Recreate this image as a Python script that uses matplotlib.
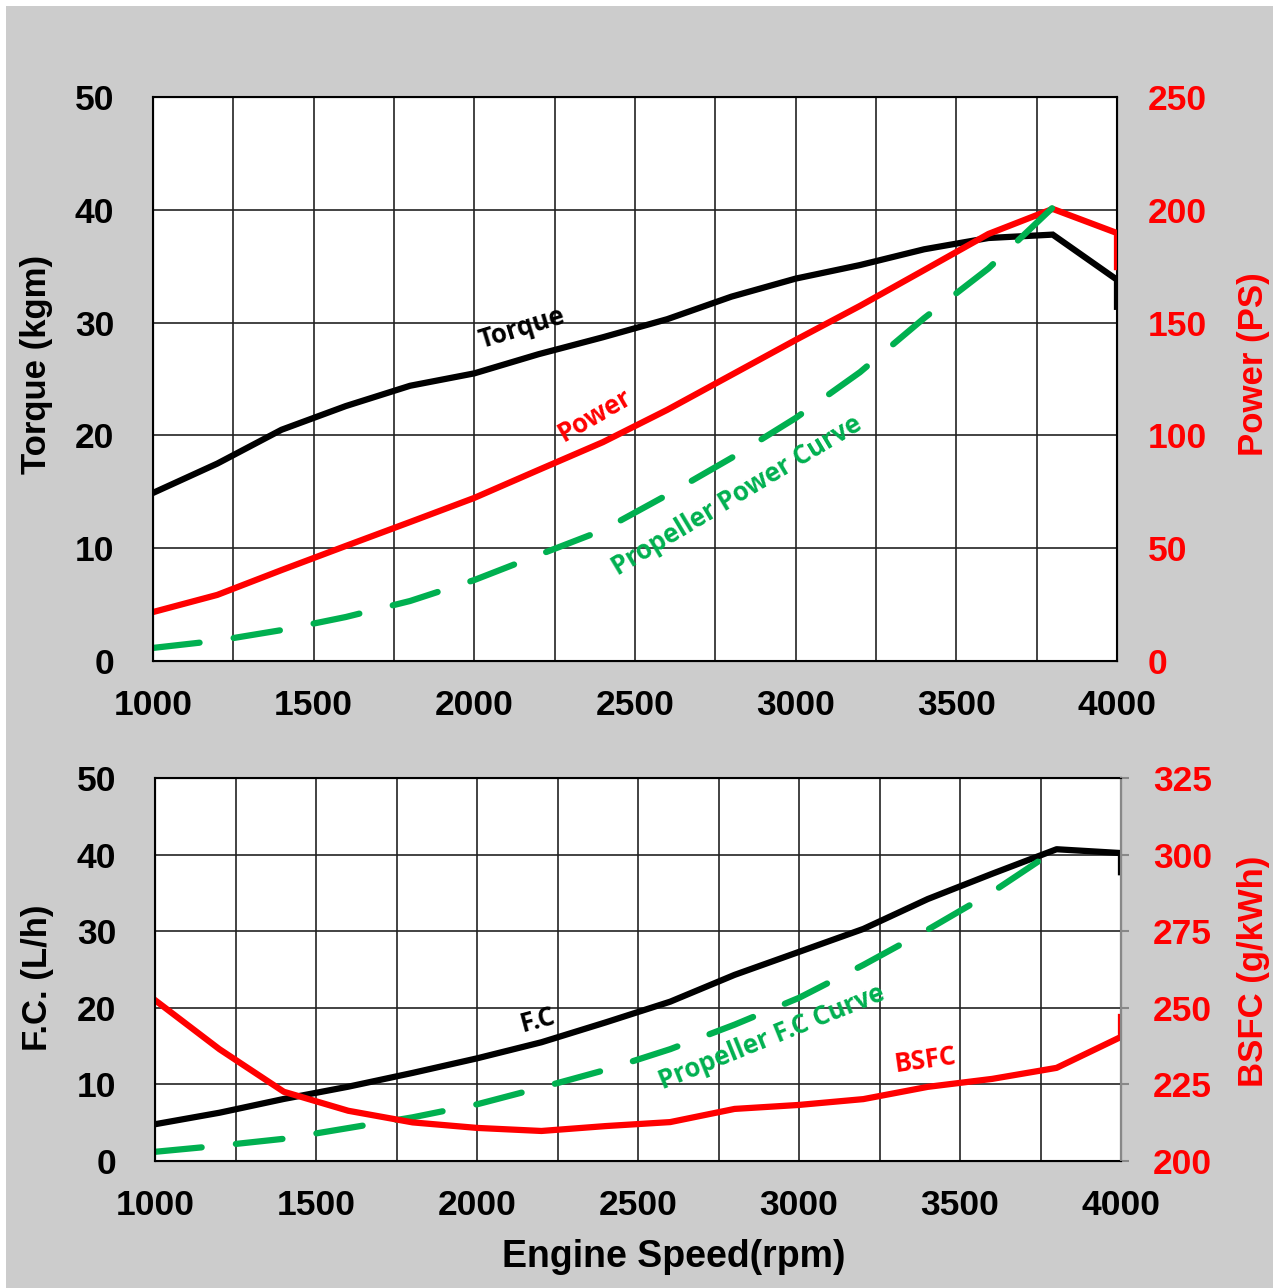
import matplotlib.pyplot as plt
from matplotlib.patches import Rectangle
from matplotlib.ticker import MultipleLocator

# engine speed (last point repeated: curves drop straight down at the limit)
rpm = [1000, 1200, 1400, 1600, 1800, 2000, 2200, 2400, 2600, 2800,
       3000, 3200, 3400, 3600, 3800, 4000, 4000]
torque = [14.9, 17.5, 20.5, 22.6, 24.4, 25.5, 27.2, 28.7, 30.3, 32.3,
          33.9, 35.1, 36.5, 37.5, 37.8, 33.8, 31.4]
power = [21.7, 29.3, 40.3, 51.0, 61.6, 72.3, 84.7, 97.0, 111.3, 126.8,
         142.3, 157.4, 173.3, 189.3, 200.4, 189.7, 174.6]
fc = [4.8, 6.3, 8.1, 9.7, 11.5, 13.4, 15.5, 18.1, 20.8, 24.3,
      27.3, 30.3, 34.2, 37.5, 40.7, 40.2, 37.7]
bsfc = [252.5, 236.5, 222.6, 216.4, 212.6, 210.8, 209.8, 211.4, 212.7, 217.0,
        218.3, 220.2, 224.2, 226.8, 230.4, 240.5, 247.0]

rpm_prop = [1000, 1200, 1400, 1600, 1800, 2000, 2200, 2400, 2600, 2800,
            3000, 3200, 3400, 3600, 3800]
prop_power = [5.8, 9.0, 13.7, 19.5, 26.6, 35.9, 47.0, 58.0, 73.6, 90.0,
              107.7, 128.0, 152.0, 174.0, 201.0]
prop_fc = [1.2, 2.0, 2.9, 4.3, 5.7, 7.4, 9.6, 11.9, 14.6, 17.8,
           21.3, 25.6, 30.2, 35.1, 40.7]

BLACK = '#000000'
RED = '#ff0000'
GREEN = '#00b050'
BG = '#cccccc'
TICKFONT = dict(family='Liberation Sans', weight='bold', size=25.5)
NOTEFONT = dict(family='Open Sans', weight='bold', size=18.5)

fig = plt.figure(figsize=(12.73, 12.88), dpi=100)
fig.patch.set_facecolor('white')
fig.patches.append(Rectangle((6 / 1273, 0), 1, 1 - 6 / 1288, transform=fig.transFigure,
                             facecolor=BG, edgecolor='none', zorder=-10))

ax1 = fig.add_axes([153 / 1273, 1 - 661 / 1288, 964 / 1273, 564 / 1288])
ax3 = fig.add_axes([155 / 1273, 1 - 1161 / 1288, 966 / 1273, 383 / 1288])


def style_axis(ax, ylim):
    ax.set_xlim(1000, 4000)
    ax.set_ylim(*ylim)
    ax.xaxis.set_major_locator(MultipleLocator(500))
    ax.xaxis.set_minor_locator(MultipleLocator(250))
    ax.yaxis.set_major_locator(MultipleLocator(10))
    ax.grid(True, which='both', axis='x', color='#222222', lw=1.2)
    ax.grid(True, which='major', axis='y', color='#222222', lw=1.2)
    ax.set_axisbelow(True)
    ax.tick_params(which='both', length=0)
    ax.tick_params(axis='y', pad=28)
    ax.tick_params(axis='x', pad=20)
    for s in ax.spines.values():
        s.set_color(BLACK)
        s.set_linewidth(1.5)
    for lab in ax.get_xticklabels() + ax.get_yticklabels():
        lab.set_fontproperties(TICKFONT)


style_axis(ax1, (0, 50))
style_axis(ax3, (0, 50))

lw = 4.5
dash = (7.5, 5.5)

# top panel
ax1.plot(rpm, torque, color=BLACK, lw=lw, solid_joinstyle='miter')
ax2 = ax1.twinx()
ax2.plot(rpm, power, color=RED, lw=lw)
ax2.plot(rpm_prop, prop_power, color=GREEN, lw=lw, dashes=dash, dash_capstyle='round')
ax2.set_ylim(0, 250)
ax2.yaxis.set_major_locator(MultipleLocator(50))
ax2.tick_params(length=0, pad=22, colors=RED)
ax2.spines['right'].set_color(BLACK)
for lab in ax2.get_yticklabels():
    lab.set_fontproperties(TICKFONT)
    lab.set_color(RED)

ax1.text(2148, 29.5, 'Torque', color=BLACK, rotation=17, ha='center', va='center', **NOTEFONT)
ax1.text(2375, 21.8, 'Power', color=RED, rotation=30, ha='center', va='center', **NOTEFONT)
ax1.text(2817, 14.7, 'Propeller Power Curve', color=GREEN, rotation=31,
         ha='center', va='center', **NOTEFONT)

# bottom panel
ax3.plot(rpm, fc, color=BLACK, lw=lw)
ax3.plot(rpm_prop, prop_fc, color=GREEN, lw=lw, dashes=dash, dash_capstyle='round')
ax4 = ax3.twinx()
ax4.plot(rpm, bsfc, color=RED, lw=lw)
ax4.set_ylim(200, 325)
ax4.yaxis.set_major_locator(MultipleLocator(25))
ax4.tick_params(length=6, width=1.5, color='#888888', pad=17, labelcolor=RED)
ax4.spines['right'].set_color('#888888')
ax4.spines['right'].set_linewidth(1.5)
for lab in ax4.get_yticklabels():
    lab.set_fontproperties(TICKFONT)
    lab.set_color(RED)

ax3.text(2189, 18.4, 'F.C', color=BLACK, rotation=15, ha='center', va='center', **NOTEFONT)
ax3.text(2916, 16.1, 'Propeller F.C Curve', color=GREEN, rotation=22,
         ha='center', va='center', **NOTEFONT)
ax3.text(3391, 13.2, 'BSFC', color=RED, rotation=8, ha='center', va='center', **NOTEFONT)

# axis titles
LABELFONT = dict(family='Liberation Sans', weight='bold', size=25)
fig.text(37 / 1273, 1 - 364 / 1288, 'Torque (kgm)', rotation=90, ha='center', va='center', **LABELFONT)
fig.text(1253 / 1273, 1 - 364 / 1288, 'Power (PS)', rotation=90, ha='center', va='center',
         color=RED, **LABELFONT)
fig.text(37 / 1273, 1 - 978 / 1288, 'F.C. (L/h)', rotation=90, ha='center', va='center', **LABELFONT)
fig.text(1254 / 1273, 1 - 971 / 1288, 'BSFC (g/kWh)', rotation=90, ha='center', va='center',
         color=RED, **LABELFONT)
fig.text(674 / 1273, 1 - 1257 / 1288, 'Engine Speed(rpm)', ha='center', va='center',
         family='Liberation Sans', weight='bold', size=27)

fig.savefig('out.png', dpi=100)
